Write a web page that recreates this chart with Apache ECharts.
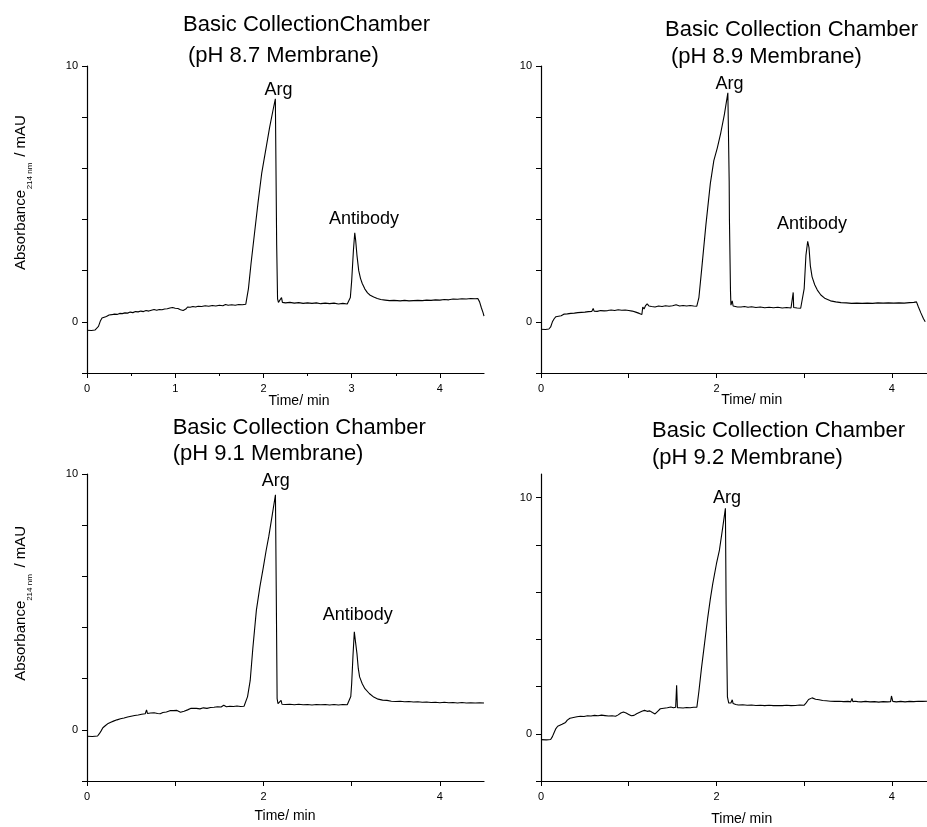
<!DOCTYPE html>
<html>
<head>
<meta charset="utf-8">
<script src="https://cdn.jsdelivr.net/npm/echarts@6/dist/echarts.min.js"></script>
<style>
html,body{margin:0;padding:0;background:#fff;}
#chart{width:927px;height:827px;}
</style>
</head>
<body>
<div id="chart"></div>
<script>
// ---------- data (time in min, absorbance in mAU) ----------
var titlesLine1 = ['Basic CollectionChamber', 'Basic Collection Chamber', 'Basic Collection Chamber', 'Basic Collection Chamber'];
var titlesLine2 = [' (pH 8.7 Membrane)', ' (pH 8.9 Membrane)', '(pH 9.1 Membrane)', '(pH 9.2 Membrane)'];

var pH87 = [
[0.00,-0.33],[0.05,-0.34],[0.09,-0.32],[0.11,-0.27],[0.13,-0.18],[0.15,0.02],[0.17,0.15],[0.19,0.19],[0.22,0.21],[0.25,0.27],
[0.28,0.28],[0.31,0.30],[0.34,0.29],[0.37,0.33],[0.40,0.32],[0.43,0.35],[0.46,0.34],[0.49,0.38],[0.52,0.36],[0.55,0.40],
[0.58,0.39],[0.61,0.42],[0.64,0.40],[0.67,0.44],[0.70,0.42],[0.73,0.45],[0.76,0.48],[0.79,0.45],[0.82,0.48],[0.85,0.47],
[0.88,0.50],[0.91,0.51],[0.94,0.54],[0.97,0.56],[1.00,0.53],[1.03,0.52],[1.06,0.47],[1.09,0.44],[1.11,0.42],[1.12,0.50],
[1.14,0.58],[1.17,0.57],[1.20,0.60],[1.23,0.58],[1.26,0.61],[1.30,0.60],[1.34,0.63],[1.38,0.61],[1.42,0.64],[1.46,0.62],
[1.50,0.65],[1.54,0.63],[1.57,0.68],[1.60,0.65],[1.64,0.67],[1.68,0.65],[1.72,0.68],[1.76,0.67],[1.80,0.69],[1.81,0.75],
[1.83,1.30],[1.86,2.30],[1.90,3.50],[1.94,4.70],[1.98,5.80],[2.00,6.20],[2.03,6.80],[2.07,7.60],[2.11,8.30],[2.135,8.72],
[2.15,3.00],[2.16,0.90],[2.17,0.76],[2.19,0.74],[2.205,0.95],[2.215,0.76],[2.25,0.74],[2.30,0.76],[2.35,0.73],[2.40,0.75],
[2.45,0.72],[2.50,0.74],[2.55,0.72],[2.60,0.74],[2.65,0.71],[2.70,0.73],[2.75,0.71],[2.80,0.73],[2.85,0.70],[2.90,0.72],
[2.95,0.70],[2.97,0.74],[2.985,0.95],[3.00,1.60],[3.02,2.80],[3.035,3.48],[3.045,3.20],[3.06,2.60],[3.08,2.00],[3.10,1.70],
[3.12,1.50],[3.15,1.28],[3.18,1.13],[3.21,1.04],[3.25,0.97],[3.29,0.91],[3.33,0.87],[3.38,0.85],[3.43,0.83],[3.48,0.84],
[3.55,0.82],[3.60,0.84],[3.65,0.82],[3.70,0.83],[3.75,0.84],[3.80,0.83],[3.85,0.85],[3.90,0.84],[3.95,0.86],[4.00,0.85],
[4.05,0.87],[4.10,0.86],[4.15,0.89],[4.20,0.88],[4.25,0.90],[4.30,0.89],[4.35,0.91],[4.40,0.90],[4.43,0.91],[4.45,0.78],
[4.47,0.55],[4.49,0.35],[4.50,0.22]
];

var pH89 = [
[0.00,-0.29],[0.05,-0.30],[0.09,-0.28],[0.11,-0.20],[0.13,0.00],[0.15,0.12],[0.17,0.20],[0.20,0.22],[0.23,0.24],[0.26,0.30],
[0.30,0.31],[0.34,0.33],[0.38,0.34],[0.42,0.36],[0.46,0.37],[0.50,0.38],[0.54,0.40],[0.58,0.41],[0.595,0.52],[0.605,0.42],
[0.64,0.41],[0.68,0.44],[0.72,0.43],[0.76,0.44],[0.80,0.46],[0.84,0.44],[0.88,0.47],[0.92,0.45],[0.96,0.46],[1.00,0.44],
[1.04,0.42],[1.08,0.38],[1.12,0.33],[1.15,0.29],[1.16,0.58],[1.175,0.50],[1.19,0.62],[1.21,0.70],[1.23,0.62],[1.26,0.60],
[1.30,0.58],[1.34,0.62],[1.38,0.60],[1.42,0.63],[1.46,0.61],[1.50,0.63],[1.54,0.67],[1.58,0.62],[1.62,0.64],[1.66,0.62],
[1.70,0.64],[1.74,0.62],[1.776,0.61],[1.80,0.95],[1.83,2.00],[1.88,3.80],[1.93,5.40],[1.97,6.30],[2.01,6.80],[2.05,7.40],
[2.09,8.10],[2.13,8.95],[2.145,5.50],[2.148,4.00],[2.16,1.20],[2.165,0.65],[2.18,0.82],[2.19,0.62],[2.20,0.60],[2.24,0.58],
[2.26,0.64],[2.28,0.58],[2.32,0.60],[2.36,0.57],[2.40,0.59],[2.45,0.56],[2.50,0.58],[2.55,0.55],[2.60,0.57],[2.65,0.55],
[2.70,0.57],[2.75,0.54],[2.80,0.56],[2.85,0.54],[2.87,0.56],[2.875,1.15],[2.88,0.56],[2.885,0.52],[2.92,0.54],[2.96,0.53],
[2.98,0.55],[3.00,1.30],[3.02,2.60],[3.04,3.15],[3.055,2.90],[3.07,2.20],[3.09,1.76],[3.12,1.45],[3.15,1.24],[3.19,1.05],
[3.24,0.91],[3.30,0.82],[3.36,0.78],[3.42,0.75],[3.48,0.74],[3.54,0.72],[3.60,0.73],[3.66,0.72],[3.72,0.73],[3.78,0.72],
[3.84,0.74],[3.90,0.73],[3.96,0.74],[4.02,0.73],[4.08,0.74],[4.14,0.73],[4.20,0.75],[4.25,0.76],[4.28,0.78],[4.30,0.60],
[4.33,0.35],[4.36,0.12],[4.38,0.00]
];

var pH91 = [
[0.00,-0.25],[0.06,-0.26],[0.12,-0.24],[0.14,-0.15],[0.16,-0.04],[0.18,0.08],[0.21,0.17],[0.24,0.25],[0.27,0.30],[0.30,0.34],
[0.34,0.39],[0.38,0.43],[0.42,0.46],[0.46,0.50],[0.50,0.53],[0.54,0.56],[0.58,0.58],[0.62,0.61],[0.66,0.63],[0.675,0.78],
[0.685,0.64],[0.72,0.66],[0.76,0.67],[0.80,0.64],[0.83,0.63],[0.86,0.68],[0.90,0.70],[0.94,0.75],[0.96,0.82],[0.98,0.75],
[1.02,0.76],[1.06,0.69],[1.10,0.73],[1.14,0.78],[1.18,0.84],[1.20,0.80],[1.24,0.84],[1.28,0.82],[1.32,0.86],[1.36,0.84],
[1.40,0.87],[1.44,0.88],[1.48,0.90],[1.52,0.89],[1.55,0.96],[1.58,0.90],[1.62,0.92],[1.66,0.91],[1.70,0.93],[1.74,0.91],
[1.78,0.92],[1.80,0.95],[1.82,1.30],[1.85,1.93],[1.88,3.20],[1.92,4.68],[1.96,5.60],[2.00,6.38],[2.03,7.00],[2.06,7.55],
[2.10,8.40],[2.136,9.19],[2.145,5.50],[2.155,1.22],[2.165,1.02],[2.18,1.00],[2.20,1.15],[2.21,1.00],[2.25,0.99],[2.30,1.00],
[2.35,0.98],[2.40,1.00],[2.45,0.98],[2.50,0.99],[2.55,0.97],[2.60,0.99],[2.65,0.98],[2.70,0.99],[2.75,0.97],[2.80,0.99],
[2.85,0.97],[2.90,0.99],[2.95,0.98],[2.97,1.00],[2.99,1.30],[3.00,1.80],[3.015,2.90],[3.03,3.83],[3.045,3.40],[3.06,2.98],
[3.075,2.40],[3.09,2.07],[3.12,1.80],[3.15,1.61],[3.20,1.42],[3.25,1.28],[3.30,1.20],[3.35,1.16],[3.40,1.15],[3.45,1.12],
[3.50,1.11],[3.55,1.12],[3.60,1.10],[3.65,1.11],[3.70,1.09],[3.75,1.10],[3.80,1.08],[3.85,1.09],[3.90,1.07],[3.95,1.08],
[4.00,1.06],[4.05,1.08],[4.10,1.06],[4.15,1.07],[4.20,1.05],[4.25,1.07],[4.30,1.05],[4.35,1.06],[4.40,1.05],[4.45,1.06],
[4.50,1.05]
];

var pH92 = [
[0.00,-0.25],[0.06,-0.26],[0.11,-0.24],[0.13,-0.12],[0.15,0.05],[0.17,0.22],[0.19,0.32],[0.21,0.36],[0.24,0.40],[0.26,0.42],
[0.28,0.48],[0.30,0.58],[0.33,0.66],[0.37,0.69],[0.41,0.72],[0.45,0.74],[0.49,0.73],[0.53,0.76],[0.57,0.75],[0.61,0.78],
[0.65,0.76],[0.69,0.79],[0.73,0.77],[0.77,0.75],[0.81,0.76],[0.85,0.74],[0.88,0.80],[0.91,0.88],[0.94,0.92],[0.97,0.88],
[1.00,0.82],[1.03,0.76],[1.06,0.78],[1.09,0.85],[1.12,0.90],[1.15,0.95],[1.18,0.99],[1.21,0.95],[1.24,0.97],[1.27,0.90],
[1.30,0.84],[1.33,0.95],[1.36,1.06],[1.40,1.08],[1.44,1.10],[1.48,1.13],[1.51,1.10],[1.535,1.12],[1.546,2.05],[1.555,1.10],
[1.58,1.10],[1.62,1.09],[1.66,1.11],[1.70,1.10],[1.74,1.12],[1.777,1.13],[1.80,1.80],[1.83,2.80],[1.864,3.82],[1.90,4.90],
[1.93,5.70],[1.958,6.36],[2.00,7.20],[2.034,7.78],[2.07,8.70],[2.102,9.55],[2.11,5.50],[2.125,1.56],[2.14,1.30],[2.165,1.30],
[2.18,1.44],[2.19,1.28],[2.22,1.24],[2.25,1.22],[2.30,1.23],[2.35,1.21],[2.40,1.22],[2.45,1.20],[2.50,1.21],[2.55,1.19],
[2.60,1.21],[2.65,1.19],[2.70,1.20],[2.75,1.19],[2.80,1.21],[2.85,1.19],[2.90,1.20],[2.95,1.22],[3.00,1.21],[3.02,1.30],
[3.05,1.45],[3.09,1.52],[3.13,1.46],[3.17,1.44],[3.21,1.41],[3.25,1.40],[3.30,1.38],[3.35,1.37],[3.40,1.38],[3.45,1.36],
[3.50,1.37],[3.53,1.35],[3.545,1.50],[3.555,1.36],[3.58,1.38],[3.595,1.46],[3.61,1.36],[3.65,1.35],[3.70,1.37],[3.75,1.35],
[3.80,1.36],[3.85,1.34],[3.90,1.36],[3.95,1.35],[3.985,1.36],[3.995,1.60],[4.01,1.37],[4.05,1.35],[4.10,1.37],[4.15,1.35],
[4.20,1.37],[4.25,1.36],[4.30,1.38],[4.35,1.37],[4.40,1.38]
];

var peakLabels = [
  [{name:'Arg', coord:[2.17, 9.05]}, {name:'Antibody', coord:[3.14, 4.02]}],
  [{name:'Arg', coord:[2.15, 9.31]}, {name:'Antibody', coord:[3.09, 3.84]}],
  [{name:'Arg', coord:[2.14, 9.74]}, {name:'Antibody', coord:[3.07, 4.47]}],
  [{name:'Arg', coord:[2.12, 9.97]}]
];

var yTickValues = [-2, 0, 2, 4, 6, 8, 10];
var yLabelValues = [0, 10];
var xTickValuesA = [0, 1, 2, 3, 4];
var xMinorTickValuesA = [0.5, 1.5, 2.5, 3.5];
var xLabelValuesA = [0, 1, 2, 3, 4];
var xTickValuesB = [0, 1, 2, 3, 4];
var xLabelValuesB = [0, 2, 4];
var xAxisTitle = 'Time/ min';
var yAxisTitleMain = 'Absorbance';
var yAxisTitleSub = '214 nm';
var yAxisTitleUnit = '/ mAU';

// ---------- layout ----------
var FONT = 'Liberation Sans, Arial, Helvetica, sans-serif';
var series = [pH87, pH89, pH91, pH92];
var grids = [
  {left: 87, top: 66, width: 397, height: 307},
  {left: 541, top: 66, width: 388.5, height: 307},
  {left: 87, top: 474, width: 397, height: 307},
  {left: 541, top: 474, width: 388.5, height: 307}
];
var xMax = [4.5, 4.4, 4.5, 4.4];
var yMax = [10, 10, 10, 11];

var xAxes = [], yAxes = [], ser = [];
for (var i = 0; i < 4; i++) {
  var isA = (i === 0);
  xAxes.push({
    type: 'value', gridIndex: i, min: 0, max: xMax[i], position: 'bottom',
    axisLine: {show: true, onZero: false, lineStyle: {color: '#000', width: 1.2}},
    axisTick: {show: true, length: 5, customValues: isA ? xTickValuesA : xTickValuesB, lineStyle: {color: '#000', width: 1}},
    axisLabel: {show: true, margin: 10, fontSize: 11, color: '#000', fontFamily: FONT,
      customValues: isA ? xLabelValuesA : xLabelValuesB},
    splitLine: {show: false}
  });
  yAxes.push({
    type: 'value', gridIndex: i, min: -2, max: yMax[i],
    axisLine: {show: true, onZero: false, lineStyle: {color: '#000', width: 1.2}},
    axisTick: {show: true, length: 5, customValues: yTickValues, lineStyle: {color: '#000', width: 1}},
    axisLabel: {show: true, margin: 9, fontSize: 11, color: '#000', fontFamily: FONT, customValues: yLabelValues},
    splitLine: {show: false}
  });
  ser.push({
    type: 'line', xAxisIndex: i, yAxisIndex: i, data: series[i],
    showSymbol: false, symbol: 'none', smooth: false, animation: false,
    lineStyle: {color: '#000', width: 1.1},
    markPoint: {
      symbol: 'circle', symbolSize: 0, animation: false,
      label: {show: true, position: 'inside', formatter: '{b}', color: '#000', fontSize: 18, fontFamily: FONT},
      data: peakLabels[i]
    }
  });
}
// minor ticks for first panel
xAxes.push({
  type: 'value', gridIndex: 0, min: 0, max: xMax[0], position: 'bottom',
  axisLine: {show: false, onZero: false},
  axisTick: {show: true, length: 3, customValues: xMinorTickValuesA, lineStyle: {color: '#000', width: 1}},
  axisLabel: {show: false}, splitLine: {show: false}
});

function txt(x, y, text, size, align, rot) {
  return {
    type: 'text', x: x, y: y, rotation: rot || 0, silent: true,
    style: {text: text, fill: '#000', font: size + 'px ' + FONT,
      align: align, verticalAlign: 'middle', textAlign: align, textVerticalAlign: 'middle'}
  };
}

var titlePos = [
  [[183, 24.5], [188, 56.3]],
  [[665, 30], [671, 57]],
  [[172.7, 427.5], [172.7, 454.2]],
  [[652, 430.8], [652, 457.5]]
];
var xTitlePos = [[299, 401], [751.7, 400], [285, 816], [741.7, 818.7]];

var graphics = [];
for (var k = 0; k < 4; k++) {
  graphics.push(txt(titlePos[k][0][0], titlePos[k][0][1], titlesLine1[k].trim(), 22, 'left'));
  graphics.push(txt(titlePos[k][1][0], titlePos[k][1][1], titlesLine2[k].trim(), 22, 'left'));
  graphics.push(txt(xTitlePos[k][0], xTitlePos[k][1], xAxisTitle, 14, 'center'));
}
var yTitleY = [[230, 176, 136], [640.8, 587.5, 546.7]];
for (var m = 0; m < 2; m++) {
  graphics.push(txt(21, yTitleY[m][0], yAxisTitleMain, 15, 'center', Math.PI / 2));
  graphics.push(txt(30, yTitleY[m][1], yAxisTitleSub, 8, 'center', Math.PI / 2));
  graphics.push(txt(21, yTitleY[m][2], yAxisTitleUnit, 15, 'center', Math.PI / 2));
}

var chart = echarts.init(document.getElementById('chart'), null, {renderer: 'canvas'});
chart.setOption({
  backgroundColor: '#fff',
  animation: false,
  grid: grids,
  xAxis: xAxes,
  yAxis: yAxes,
  series: ser,
  graphic: graphics
});
</script>
</body>
</html>
